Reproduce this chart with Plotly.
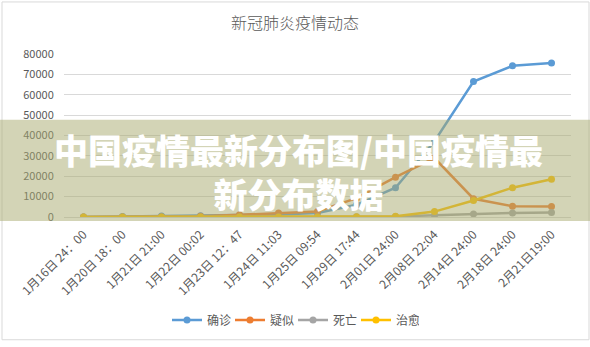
import plotly.graph_objects as go

categories = ["1月16日 24：00", "1月20日 18：00", "1月21日 21:00", "1月22日 00:02",
              "1月23日 12：47", "1月24日 11:03", "1月25日 09:54", "1月29日 17:44",
              "2月01日 24:00", "2月08日 22:04", "2月14日 24:00", "2月18日 24:00",
              "2月21日19:00"]
confirmed = [45, 291, 440, 571, 830, 1287, 1975, 5974, 14380, 37198, 66492, 74185, 75567]
suspected = [0, 54, 37, 393, 1072, 1965, 2684, 9239, 19544, 28942, 8969, 5248, 5206]
deaths = [2, 6, 9, 17, 25, 41, 56, 132, 304, 811, 1523, 2004, 2239]
cured = [12, 25, 28, 34, 38, 38, 49, 103, 328, 2649, 8096, 14376, 18500]
series_names = ["确诊", "疑似", "死亡", "治愈"]
colors = ["#5B9BD5", "#ED7D31", "#A5A5A5", "#FFC000"]

W, H = 590, 347
L, R, T, B = 64, 19, 54, 127
pw, ph = W - L - R, H - T - B

def px_x(x):
    return (x - L) / pw

def px_y(y):
    return (H - B - y) / ph

fig = go.Figure()
for name, vals, c in zip(series_names, [confirmed, suspected, deaths, cured], colors):
    fig.add_trace(go.Scatter(x=categories, y=vals, name=name, mode="lines+markers",
                             line=dict(color=c, width=2.5),
                             marker=dict(color=c, size=7)))

fig.update_layout(
    width=W, height=H,
    margin=dict(l=L, r=R, t=T, b=B),
    paper_bgcolor="white", plot_bgcolor="white",
    font=dict(family="Noto Sans CJK SC, DejaVu Sans", color="#595959", size=11),
    title=dict(text="新冠肺炎疫情动态", x=px_x(295), xref="paper", xanchor="center",
               y=1 - 23 / H, yanchor="middle",
               font=dict(size=16, color="#595959", weight=300)),
    showlegend=True,
    legend=dict(orientation="h", x=px_x(293), xanchor="center", y=px_y(325), yanchor="middle",
                font=dict(size=12, color="#595959"), itemwidth=30,
                entrywidth=18, entrywidthmode="pixels"),
    xaxis=dict(type="category", range=[-0.5, 12.5], tickangle=-45,
               showgrid=False, showline=True, linecolor="#D9D9D9",
               ticks="outside", ticklen=5, tickcolor="rgba(0,0,0,0)",
               tickfont=dict(size=12, color="#595959")),
    yaxis=dict(range=[0, 80000], dtick=10000, showgrid=True, gridcolor="#D9D9D9",
               zeroline=False, showline=False,
               ticks="outside", ticklen=7, tickcolor="rgba(0,0,0,0)", tickformat="d",
               tickfont=dict(size=11, color="#595959")),
)

# outer chart frame
fig.add_shape(type="rect", xref="paper", yref="paper",
              x0=px_x(2), x1=px_x(589), y0=px_y(345), y1=px_y(1),
              line=dict(color="#D9D9D9", width=1), layer="below")

# banner overlay
fig.add_shape(type="rect", xref="paper", yref="paper",
              x0=px_x(0), x1=px_x(590), y0=px_y(224), y1=px_y(121),
              fillcolor="rgba(168,170,110,0.5)", line=dict(width=0), layer="above")

fig.add_annotation(text="中国疫情最新分布图/中国疫情最<br>新分布数据", xref="paper", yref="paper",
                   x=px_x(298), y=px_y(174), xanchor="center", yanchor="middle",
                   showarrow=False, align="center",
                   font=dict(family="Noto Sans CJK SC", size=34, color="white", weight=900))

fig.write_html("out.html")
